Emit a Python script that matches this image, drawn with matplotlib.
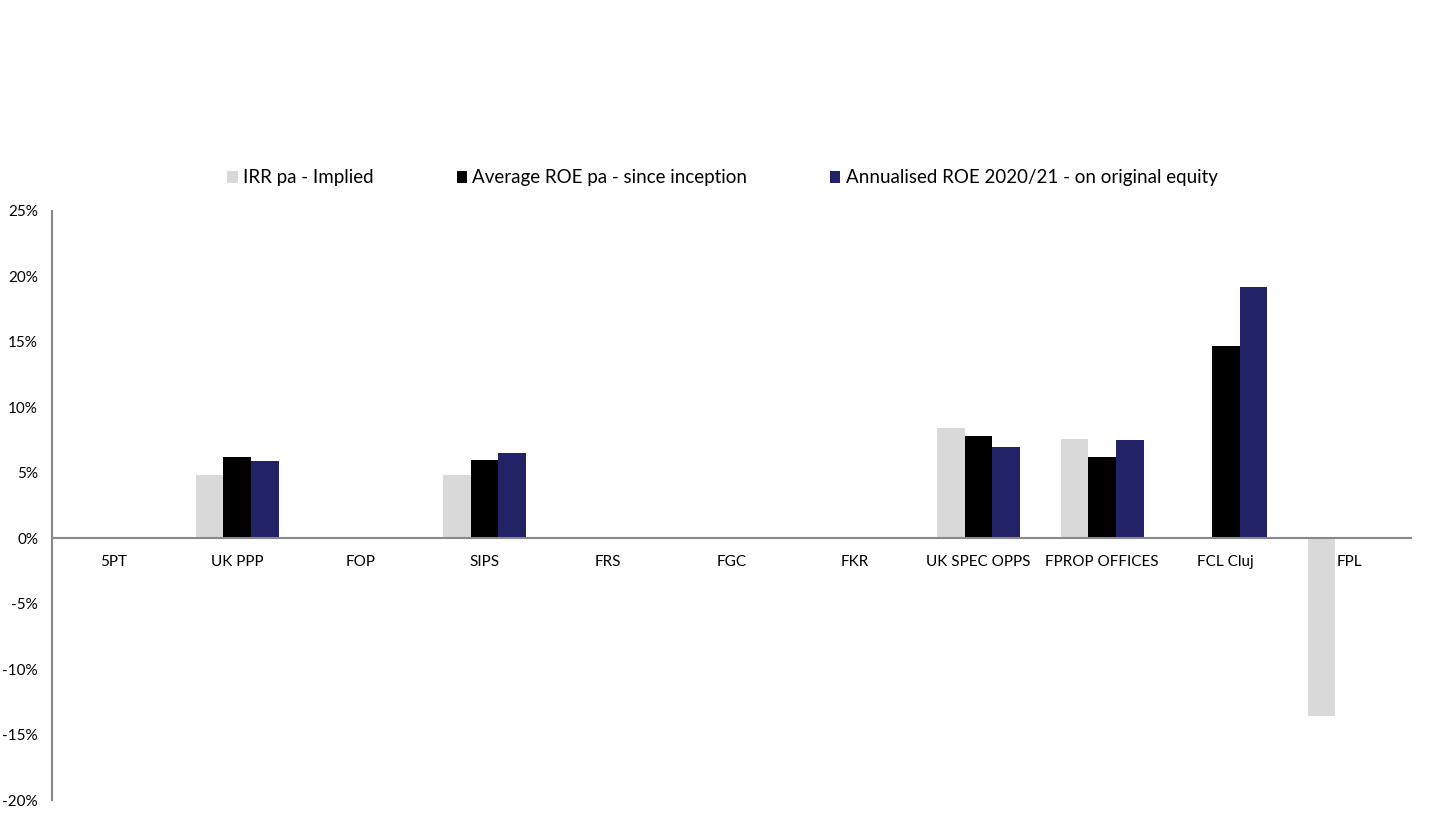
import numpy as np
import matplotlib
matplotlib.use("Agg")
import matplotlib.pyplot as plt
from matplotlib.ticker import FuncFormatter

plt.rcParams["font.family"] = ["Lato", "DejaVu Sans"]

funds = ["5PT", "UK PPP", "FOP", "SIPS", "FRS", "FGC", "FKR",
         "UK SPEC OPPS", "FPROP OFFICES", "FCL Cluj", "FPL"]
irr_implied = [0.0, 4.8, 0.0, 4.8, 0.0, 0.0, 0.0, 8.4, 7.6, 0.0, -13.6]
avg_roe = [0.0, 6.2, 0.0, 6.0, 0.0, 0.0, 0.0, 7.8, 6.2, 14.7, 0.0]
ann_roe = [0.0, 5.9, 0.0, 6.5, 0.0, 0.0, 0.0, 7.0, 7.5, 19.2, 0.0]
series_names = ["IRR pa - Implied", "Average ROE pa - since inception",
                "Annualised ROE 2020/21 - on original equity"]
colors = ["#d9d9d9", "#000000", "#222266"]

fig = plt.figure(figsize=(14.54, 8.23), dpi=100)
ax = fig.add_axes([52 / 1454, 1 - 800 / 823, (1411 - 52) / 1454, (800 - 211) / 823])

x = np.arange(len(funds))
width = 0.224
for i, (vals, name, col) in enumerate(zip([irr_implied, avg_roe, ann_roe], series_names, colors)):
    ax.bar(x + (i - 1) * width, vals, width, color=col, label=name, zorder=2)

ax.set_xlim(-0.5, len(funds) - 0.5)
ax.set_ylim(-20, 25)
ax.set_yticks(np.arange(-20, 26, 5))
ax.yaxis.set_major_formatter(FuncFormatter(lambda v, _: f"{v:.0f}%"))
ax.set_xticks(x)
ax.set_xticklabels(funds)

for side in ["top", "right"]:
    ax.spines[side].set_visible(False)
ax.spines["bottom"].set_position(("data", 0))
for side in ["left", "bottom"]:
    ax.spines[side].set_color("#898989")
    ax.spines[side].set_linewidth(1.5)
    ax.spines[side].set_zorder(3)
ax.tick_params(axis="both", length=0, labelsize=11, colors="#000000")
ax.tick_params(axis="x", pad=12)
ax.tick_params(axis="y", pad=10)

fig.legend(loc="center", bbox_to_anchor=(0.497, 1 - 178 / 823), ncol=3, frameon=False,
           fontsize=13.5, handlelength=0.55, handleheight=0.55, handletextpad=0.3,
           columnspacing=4.4)

fig.savefig("out.png")
